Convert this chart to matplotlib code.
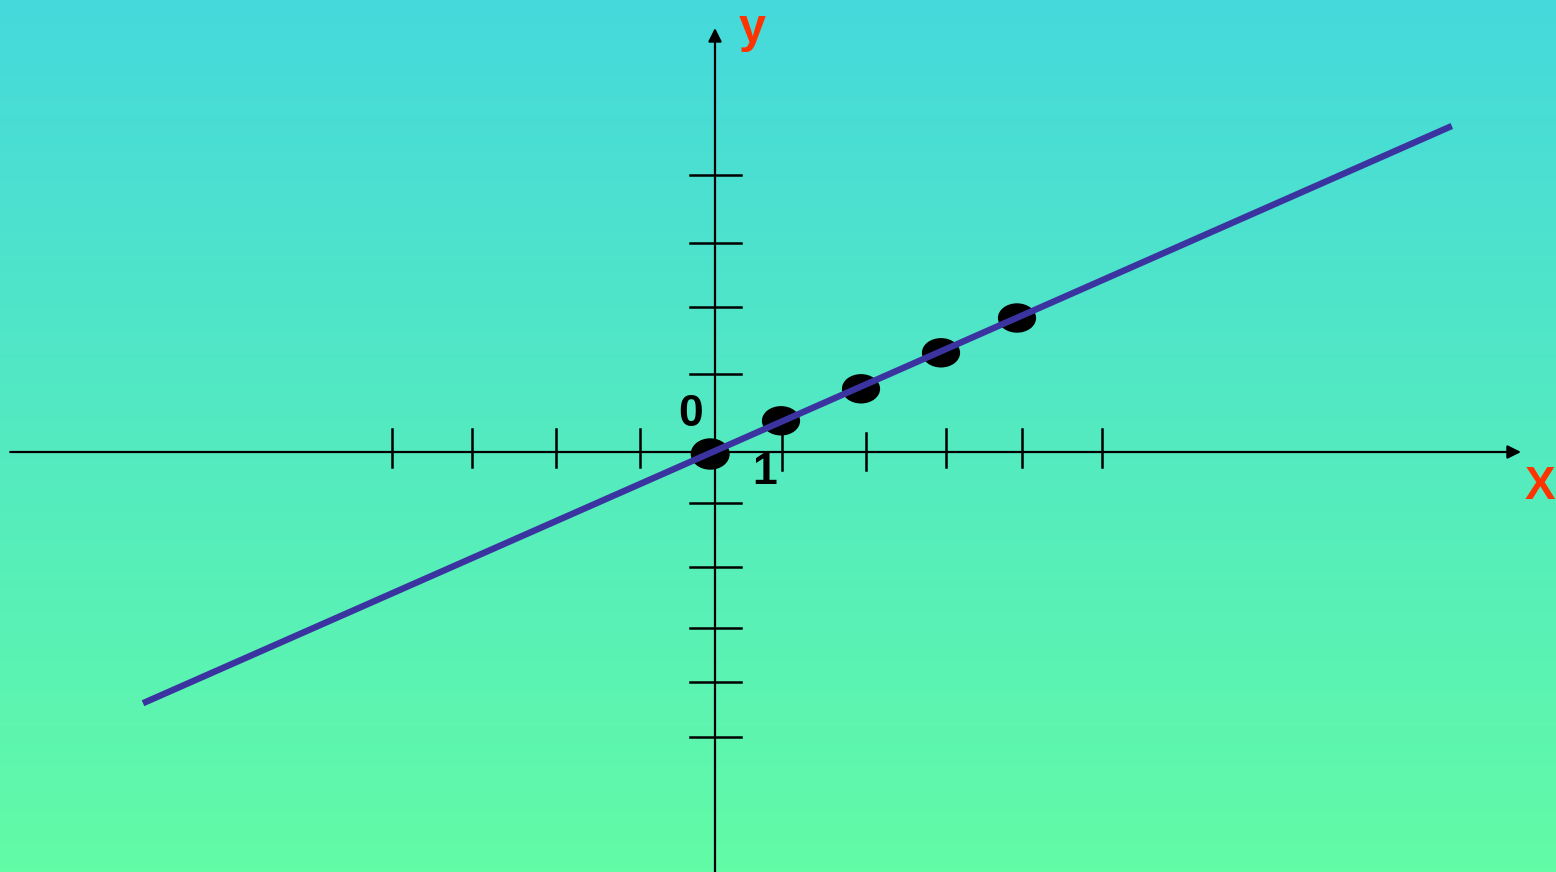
import matplotlib
matplotlib.use('Agg')
import matplotlib.pyplot as plt
from matplotlib.collections import EllipseCollection
from matplotlib.colors import LinearSegmentedColormap
import numpy as np

# tick positions (1 unit = 80 px)
x_ticks = [-4.04, -3.04, -1.99, -0.94, 0.84, 1.89, 2.89, 3.84, 4.84]
y_ticks = [3.46, 2.61, 1.81, 0.975, -0.634, -1.44, -2.2, -2.88, -3.56]

# marked points
pts_x = [-0.06, 0.825, 1.825, 2.825, 3.775]
pts_y = [-0.025, 0.39, 0.79, 1.24, 1.675]
pts_w = [0.47, 0.46, 0.46, 0.46, 0.46]
pts_h = [0.375, 0.35, 0.35, 0.35, 0.35]

# ends of the straight line
line_x = [-7.15, 9.21]
line_y = [-3.14, 4.075]

fig = plt.figure(figsize=(15.56, 8.72), dpi=100)
ax = fig.add_axes([0, 0, 1, 1])
xmin, xmax = -8.9375, 10.5125
ymin, ymax = -5.25, 5.65
ax.set_xlim(xmin, xmax)
ax.set_ylim(ymin, ymax)
ax.axis('off')

# background gradient, cyan at the top to green at the bottom
cmap = LinearSegmentedColormap.from_list('bg', ['#62FBA6', '#45D9DC'])
grad = np.linspace(0, 1, 256).reshape(-1, 1)
ax.imshow(grad, cmap=cmap, origin='lower', aspect='auto',
          extent=[xmin, xmax, ymin, ymax], zorder=0)

# axes with arrows
arrow = dict(arrowstyle='-|>', lw=1.6, color='black', mutation_scale=20,
             shrinkA=0, shrinkB=0)
ax.annotate('', xy=(10.075, 0), xytext=(-8.81, 0), arrowprops=arrow, zorder=2)
ax.annotate('', xy=(0, 5.3), xytext=(0, ymin - 0.1), arrowprops=arrow, zorder=2)

# tick marks
for t in x_ticks:
    if t in (0.84, 1.89):
        ax.plot([t, t], [0.24, -0.23], color='black', lw=1.8, zorder=2)
    else:
        ax.plot([t, t], [0.29, -0.19], color='black', lw=1.8, zorder=2)
for t in y_ticks:
    ax.plot([-0.31, 0.32], [t, t], color='black', lw=1.8, zorder=2)

# points as black ellipses
ec = EllipseCollection(widths=pts_w, heights=pts_h,
                       angles=[0] * len(pts_x), units='xy',
                       offsets=np.column_stack([pts_x, pts_y]),
                       offset_transform=ax.transData,
                       facecolors='black', edgecolors='black', zorder=3)
ax.add_collection(ec)

# the line
ax.plot(line_x, line_y, color='#3B33A0', lw=4.6, solid_capstyle='butt', zorder=4)

# labels
ax.text(0.46, 5.28, 'y', color='#FF3300', fontsize=35, fontweight='bold',
        family='Liberation Sans', ha='center', va='center', zorder=5)
ax.text(10.31, -0.44, 'X', color='#FF3300', fontsize=33, fontweight='bold',
        family='Liberation Sans', ha='center', va='center', zorder=5)
ax.text(-0.31, 0.475, '0', color='black', fontsize=32, fontweight='bold',
        family='Liberation Sans', ha='center', va='center', zorder=5)
ax.text(0.625, -0.26, '1', color='black', fontsize=32, fontweight='bold',
        family='Liberation Sans', ha='center', va='center', zorder=5)

plt.savefig('out.png', dpi=100)
